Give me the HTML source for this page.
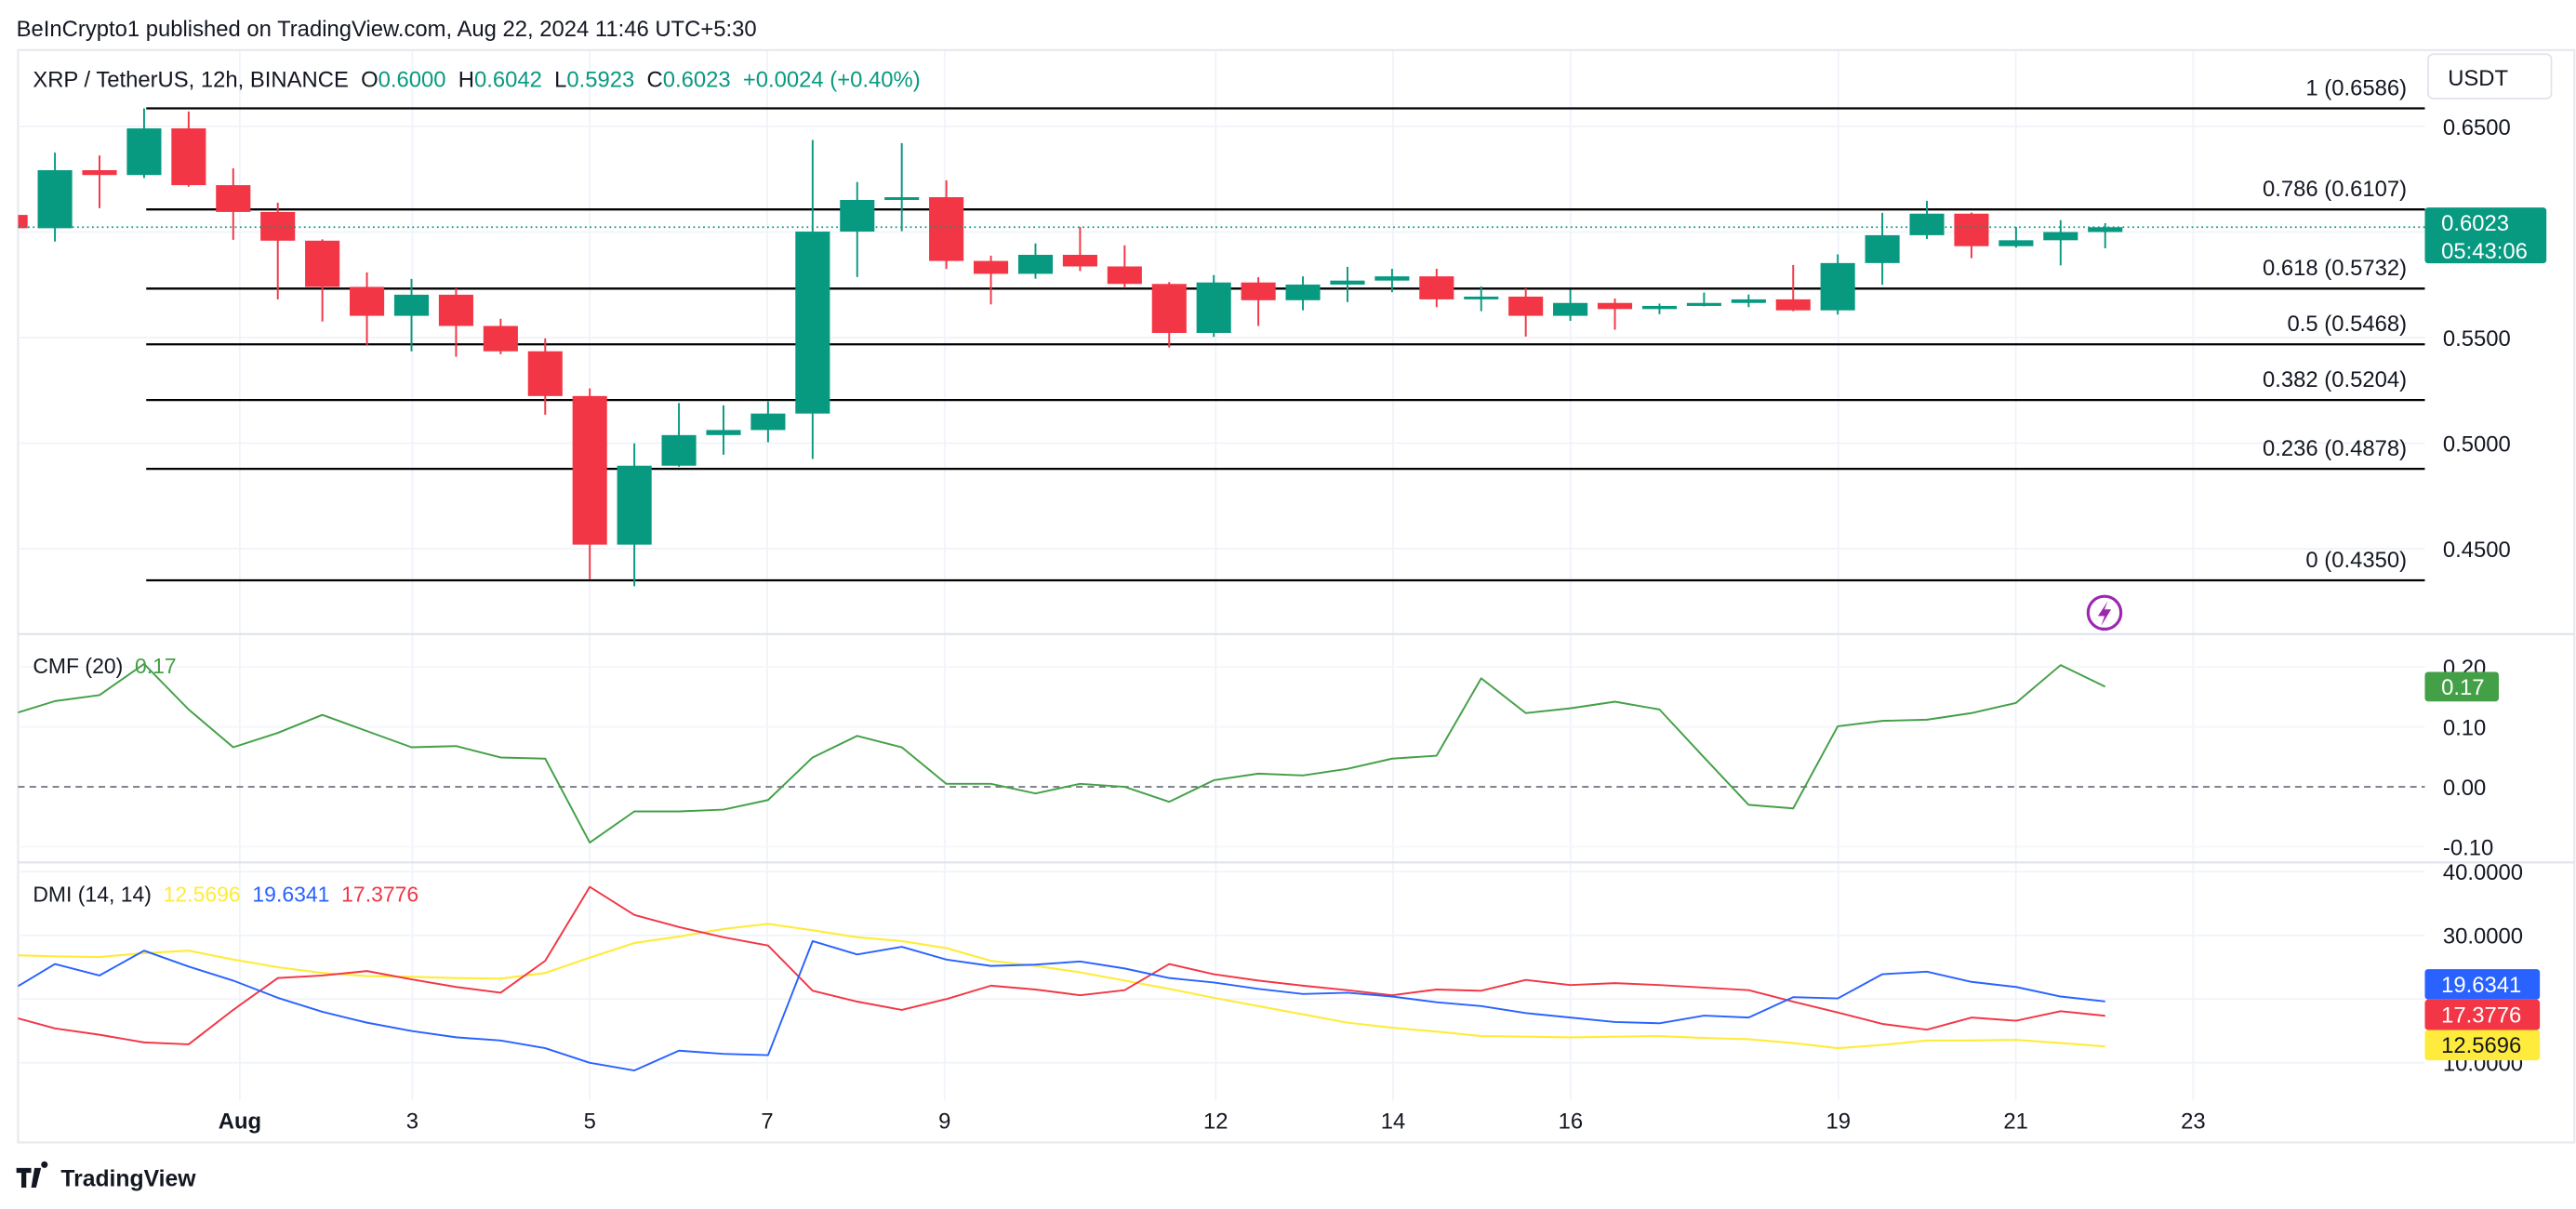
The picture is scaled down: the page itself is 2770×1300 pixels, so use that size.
<!DOCTYPE html>
<html><head><meta charset="utf-8"><style>
html,body{margin:0;padding:0;background:#fff;}
svg{display:block;font-family:"Liberation Sans",sans-serif;}
</style></head><body>
<svg id="c" width="2770" height="1300" viewBox="0 0 1568 736" preserveAspectRatio="none" xmlns="http://www.w3.org/2000/svg">
<defs><clipPath id="plotclip"><rect x="11" y="31" width="1465" height="640"/></clipPath></defs>
<text x="10" y="22" font-size="13.5" fill="#131722">BeInCrypto1 published on TradingView.com, Aug 22, 2024 11:46 UTC+5:30</text>
<rect x="11" y="30.5" width="1556" height="665" fill="none" stroke="#e6e8ee" stroke-width="1.2"/>
<g id="grid"></g>
<g id="fib"></g>
<g id="panes"></g>
<g id="candles" clip-path="url(#plotclip)"></g>
<g id="ind" clip-path="url(#plotclip)"></g>
<g id="axes"></g>
<text x="20" y="53" font-size="13.5" fill="#131722">XRP / TetherUS, 12h, BINANCE&#160;&#160;O<tspan fill="#089981">0.6000</tspan>&#160;&#160;H<tspan fill="#089981">0.6042</tspan>&#160;&#160;L<tspan fill="#089981">0.5923</tspan>&#160;&#160;C<tspan fill="#089981">0.6023</tspan>&#160;&#160;<tspan fill="#089981">+0.0024 (+0.40%)</tspan></text>
<text x="20" y="410" font-size="13" fill="#131722">CMF (20)&#160;&#160;<tspan fill="#43a047">0.17</tspan></text>
<text x="20" y="549" font-size="13" fill="#131722">DMI (14, 14)&#160;&#160;<tspan fill="#ffeb3b">12.5696</tspan>&#160;&#160;<tspan fill="#2962ff">19.6341</tspan>&#160;&#160;<tspan fill="#f23645">17.3776</tspan></text>
<g><rect x="1478" y="33" width="75" height="27" rx="3" fill="#fff" stroke="#e0e3eb"/><text x="1490" y="52" font-size="13.5" fill="#131722">USDT</text></g>
<g><circle cx="1281" cy="373" r="10" fill="none" stroke="#9c27b0" stroke-width="1.8"/><path d="M1283 366 L1277 375 L1281 375 L1279 381 L1285 371 L1281 371 Z" fill="#9c27b0"/></g>
<g><path d="M10 711 h9 v3 h-3 v9 h-3 v-9 h-3z M21 711 h4 l-3 12 h-3z M27 711 a2 2 0 1 1 0.1 0z" fill="#131722"/><text x="37" y="722" font-size="14" font-weight="bold" fill="#131722">TradingView</text></g>
</svg>
<script>
const opens  = [0.6081,0.6018,0.6293,0.6270,0.6491,0.6222,0.6095,0.5959,0.5740,0.5603,0.5703,0.5555,0.5435,0.5223,0.4519,0.4893,0.5038,0.5062,0.5140,0.6002,0.6152,0.6165,0.5863,0.5802,0.5892,0.5837,0.5754,0.5522,0.5761,0.5677,0.5751,0.5770,0.5790,0.5681,0.5694,0.5603,0.5664,0.5635,0.5650,0.5664,0.5681,0.5629,0.5853,0.5985,0.6087,0.5933,0.5961,0.6000];
const highs  = [0.6090,0.6376,0.6363,0.6586,0.6571,0.6302,0.6139,0.5965,0.5809,0.5778,0.5733,0.5589,0.5496,0.5259,0.4999,0.5190,0.5179,0.5197,0.6436,0.6237,0.6421,0.6245,0.5888,0.5946,0.6024,0.5937,0.5763,0.5796,0.5786,0.5790,0.5835,0.5826,0.5826,0.5742,0.5733,0.5727,0.5685,0.5661,0.5713,0.5704,0.5844,0.5894,0.6091,0.6148,0.6092,0.6024,0.6056,0.6042];
const lows   = [0.6010,0.5955,0.6113,0.6256,0.6215,0.5963,0.5681,0.5576,0.5464,0.5435,0.5409,0.5421,0.5134,0.4356,0.4322,0.4888,0.4945,0.5004,0.4925,0.5787,0.6004,0.5825,0.5657,0.5779,0.5815,0.5735,0.5453,0.5503,0.5555,0.5629,0.5668,0.5715,0.5644,0.5625,0.5505,0.5579,0.5537,0.5611,0.5648,0.5644,0.5625,0.5609,0.5750,0.5967,0.5876,0.5926,0.5842,0.5923];
const closes = [0.6018,0.6293,0.6270,0.6491,0.6222,0.6095,0.5959,0.5740,0.5603,0.5703,0.5555,0.5435,0.5223,0.4519,0.4893,0.5038,0.5062,0.5140,0.6002,0.6152,0.6165,0.5863,0.5802,0.5892,0.5837,0.5754,0.5522,0.5761,0.5677,0.5751,0.5770,0.5790,0.5681,0.5694,0.5603,0.5664,0.5635,0.5650,0.5664,0.5681,0.5629,0.5853,0.5985,0.6087,0.5933,0.5961,0.6000,0.6023];
const cmfValues = [0.12,0.143,0.153,0.205,0.129,0.066,0.09,0.12,0.093,0.066,0.068,0.049,0.047,-0.093,-0.041,-0.041,-0.038,-0.022,0.049,0.085,0.066,0.005,0.005,-0.011,0.005,0,-0.025,0.011,0.022,0.019,0.03,0.047,0.052,0.181,0.123,0.131,0.142,0.129,0.049,-0.03,-0.036,0.101,0.11,0.112,0.123,0.14,0.203,0.167];
const diPlus  = [21.3,25.5,23.7,27.6,25.1,22.9,20.2,18.0,16.3,15.0,14.0,13.5,12.3,10.0,8.8,11.9,11.4,11.2,29.1,27.0,28.2,26.2,25.2,25.4,25.9,24.8,23.3,22.6,21.6,20.8,21.0,20.4,19.5,18.9,17.8,17.1,16.4,16.2,17.4,17.1,20.3,20.1,23.9,24.3,22.7,21.9,20.4,19.63];
const diMinus = [17.3,15.4,14.4,13.2,12.9,18.3,23.3,23.7,24.4,23.1,21.9,21.0,26.0,37.6,33.2,31.3,29.7,28.4,21.3,19.6,18.3,20.0,22.1,21.5,20.6,21.4,25.5,23.9,22.9,22.1,21.4,20.6,21.5,21.3,23.0,22.2,22.5,22.2,21.8,21.4,19.6,17.9,16.1,15.2,17.1,16.6,18.1,17.38];
const adxValues = [26.9,26.7,26.6,27.2,27.6,26.2,25.0,24.1,23.6,23.5,23.3,23.2,24.1,26.5,28.8,29.8,31.0,31.8,30.8,29.7,29.1,28.0,26.0,25.2,24.2,22.9,21.6,20.2,18.9,17.6,16.3,15.5,14.9,14.2,14.1,14.0,14.1,14.2,13.9,13.7,13.1,12.3,12.8,13.5,13.5,13.6,13.1,12.57];
const dateLabels = ["Aug","3","5","7","9","12","14","16","19","21","23"];
const dateIndex  = [1.3,5.2,9.2,13.2,17.2,23.2,27.2,31.2,37.2,41.2,45.2];
const priceTicks = [0.65,0.60,0.55,0.50,0.45];
const fibRatios = ["1","0.786","0.618","0.5","0.382","0.236","0"];
const fibPrices = [0.6586,0.6107,0.5732,0.5468,0.5204,0.4878,0.4350];
const cmfTicks = [0.2,0.1,0,-0.1];
const dmiTicks = [40,30,10];

const NS="http://www.w3.org/2000/svg";
function mk(parent,tag,attrs){const e=document.createElementNS(NS,tag);for(const k in attrs)e.setAttribute(k,attrs[k]);parent.appendChild(e);return e;}
const xOf = i => 359 + (i-13)*27.13;
const yPrice = p => 77 + (0.65-p)*1285;
const yCmf = v => 479 - v*365;
const yDmi = v => 647 - (v-10)*3.88;
const fmt4 = v => v.toFixed(4);
const dx=[146,251,359,467,575,740,848,956,1119,1227,1335];

const grid=document.getElementById('grid');
dx.forEach(x=>{
  const l=mk(grid,'line',{x1:x,x2:x,y1:31,y2:670,stroke:'#f0f3fa','stroke-width':1});
  
  
});
priceTicks.forEach(p=>{
  const l=mk(grid,'line',{x1:11,x2:1476,y1:yPrice(p),y2:yPrice(p),stroke:'#f0f3fa','stroke-width':1});
  
  
});
[0.1,0.2,-0.1].forEach(v=>{mk(grid,'line',{x1:11,x2:1476,y1:yCmf(v),y2:yCmf(v),stroke:'#f5f6f9'});});
[40,30,20,10].forEach(v=>{mk(grid,'line',{x1:11,x2:1476,y1:yDmi(v),y2:yDmi(v),stroke:'#f0f3fa'});});

const panes=document.getElementById('panes');
[386,525].forEach(y=>{const l=mk(panes,'line',{x1:11,x2:1567,y1:y,y2:y,stroke:'#e0e3eb','stroke-width':1.2});
  
  });
const zl=mk(panes,'line',{x1:11,x2:1476,y1:yCmf(0),y2:yCmf(0),stroke:'#787b86','stroke-width':1,'stroke-dasharray':'4 3'});



const fib=document.getElementById('fib');
fibPrices.forEach((p,k)=>{
  const y=yPrice(p);
  const l=mk(fib,'line',{x1:89,x2:1476,y1:y,y2:y,stroke:'#000','stroke-width':1.3});
  
  
  const t=mk(fib,'text',{x:1465,y:y-8,'text-anchor':'end','font-size':13.5,fill:'#131722'});
  t.textContent=fibRatios[k]+' ('+fmt4(p)+')';
  
  
});

const cg=document.getElementById('candles');
opens.forEach((o,i)=>{
  const c=closes[i],x=xOf(i),up=c>=o,col=up?'#089981':'#f23645';
  const g=mk(cg,'g',{});
  
  
  mk(g,'line',{x1:x,x2:x,y1:yPrice(highs[i]),y2:yPrice(lows[i]),stroke:col,'stroke-width':1.1});
  const t=yPrice(Math.max(o,c)),b=yPrice(Math.min(o,c));
  mk(g,'rect',{x:x-10.5,y:t,width:21,height:Math.max(b-t,1.5),fill:col});
});
const lastY=yPrice(closes[closes.length-1]);
const pl=mk(cg,'line',{x1:11,x2:1476,y1:lastY,y2:lastY,stroke:'#089981','stroke-width':1,'stroke-dasharray':'1 2'});



const ind=document.getElementById('ind');
function poly(vals,yf,col,w,name){
  const p=mk(ind,'polyline',{points:vals.map((v,i)=>xOf(i)+','+yf(v)).join(' '),fill:'none',stroke:col,'stroke-width':w,'stroke-linejoin':'round'});
  
  
}
poly(cmfValues,yCmf,'#43a047',1.1,'cmf-line');
poly(adxValues,yDmi,'#ffeb3b',1.2,'adx-line');
poly(diMinus,yDmi,'#f23645',1.1,'minus-di-line');
poly(diPlus,yDmi,'#2962ff',1.1,'plus-di-line');

const ax=document.getElementById('axes');
priceTicks.forEach(p=>{
  const t=mk(ax,'text',{x:1487,y:yPrice(p)+5,'font-size':13.5,fill:'#131722'});
  t.textContent=fmt4(p);
  
  
});
cmfTicks.forEach(v=>{
  const t=mk(ax,'text',{x:1487,y:yCmf(v)+5,'font-size':13.5,fill:'#131722'});
  t.textContent=v.toFixed(2);
  
  
});
dmiTicks.forEach(v=>{
  const t=mk(ax,'text',{x:1487,y:yDmi(v)+5,'font-size':13.5,fill:'#131722'});
  t.textContent=v.toFixed(4);
  
  
});
dateLabels.forEach((d,k)=>{
  const t=mk(ax,'text',{x:dx[k],y:687,'text-anchor':'middle','font-size':13.5,fill:'#131722','font-weight':d==='Aug'?'bold':'normal'});
  t.textContent=d;
  
  
});
function badge(y,h,w,bg,fg,lines,name){
  const g=mk(ax,'g',{});
  
  
  mk(g,'rect',{x:1476,y:y,width:w,height:h,rx:2,fill:bg});
  lines.forEach((s,k)=>{const t=mk(g,'text',{x:1486,y:y+14+k*17,'font-size':13.5,fill:fg});t.textContent=s;});
}
badge(lastY-12,34,74,'#089981','#fff',[fmt4(closes[closes.length-1]),'05:43:06'],'last-price-badge');
const cl=cmfValues[cmfValues.length-1];
const g2=mk(ax,'g',{});


mk(g2,'rect',{x:1476,y:yCmf(cl)-9,width:45,height:18,rx:2,fill:'#43a047'});
const ct=mk(g2,'text',{x:1486,y:yCmf(cl)+5,'font-size':13.5,fill:'#fff'});ct.textContent=cl.toFixed(2);
badge(590,18.5,70,'#2962ff','#fff',['19.6341'],'plus-di-badge');
badge(608.5,18.5,70,'#f23645','#fff',['17.3776'],'minus-di-badge');
badge(627,18.5,70,'#ffeb3b','#131722',['12.5696'],'adx-badge');
</script>
</body></html>
